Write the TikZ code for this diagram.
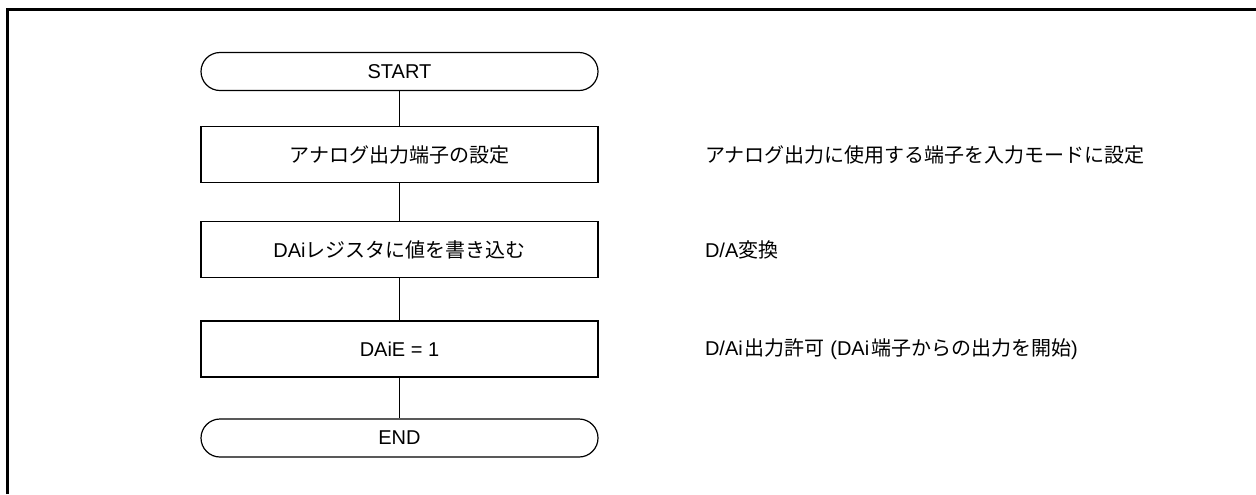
\documentclass[tikz,border=0pt]{standalone}
\usepackage{fontspec}
\setmainfont{Liberation Sans}
\newfontfamily\jp{Noto Sans CJK JP}
\usetikzlibrary{positioning}

\begin{document}
\begin{tikzpicture}[x=0.5pt, y=-0.5pt, font=\fontsize{10}{12}\selectfont,
    terminal/.style={draw, line width=0.6pt, rectangle, rounded corners=9.5pt, minimum width=198.5pt, minimum height=19pt},
    process/.style={draw, line width=0.6pt, rectangle, minimum width=198.5pt, minimum height=28pt},
    note/.style={inner sep=0pt, anchor=west}]
      \useasboundingbox (0, 0) rectangle (1256, 494);
      \draw[line width=1.4pt] (7.5, 494) -- (7.5, 9.3) -- (1256, 9.3);

      \node[terminal] (start) at (399.5, 71.5) {START};
      \node[process] (pinset) at (399.5, 154.5) {\jp アナログ出力端子の設定};
      \node[process] (dawrite) at (399.5, 249.5) {DAi{\jp レジスタに値を書き込む}};
      \node[process] (daen) at (399.5, 349) {DAiE = 1};
      \node[terminal] (end) at (399.5, 438) {END};

      \draw[line width=0.6pt] (start) -- (pinset);
      \draw[line width=0.6pt] (pinset) -- (dawrite);
      \draw[line width=0.6pt] (dawrite) -- (daen);
      \draw[line width=0.6pt] (daen) -- (end);

      \node[note, right=53pt of pinset] (n1) {\jp アナログ出力に使用する端子を入力モードに設定};
      \node[note, right=53pt of dawrite] (n2) {D/A{\jp 変換}};
      \node[note, right=53pt of daen] (n3) {D/Ai\kern1pt{\jp 出力許可} (DAi\kern1pt{\jp 端子からの出力を開始})};
    \end{tikzpicture}
\end{document}
